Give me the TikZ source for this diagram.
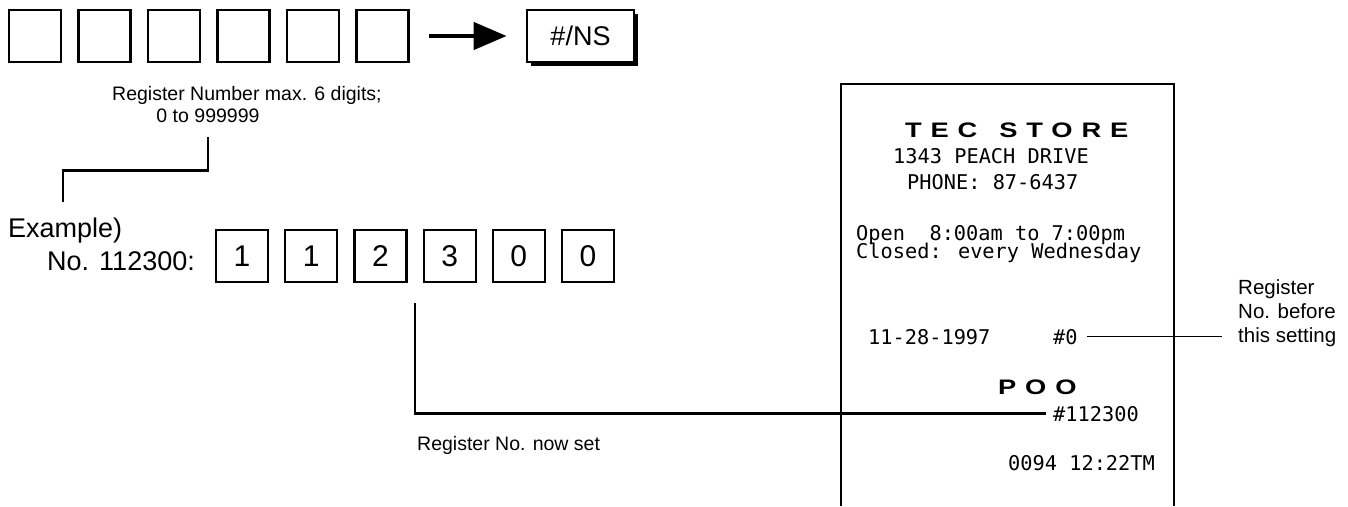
\documentclass[tikz,border=0pt]{standalone}
\usepackage{fontspec}
\setmainfont{Liberation Sans}
\newfontfamily\slipfont{DejaVu Sans Mono}
\newfontfamily\slipheadfont[FakeStretch=1.3,LetterSpace=42]{Liberation Sans}
\usetikzlibrary{arrows.meta,positioning,calc,shadows}

\begin{document}
\begin{tikzpicture}[x=1pt,y=-1pt,>=Latex,
  keybox/.style={draw,line width=2.7pt,minimum width=52pt,minimum height=52pt,inner sep=0pt,font=\fontsize{27}{30}\selectfont},
  digitbox/.style={keybox,line width=2.2pt,font=\fontsize{30}{32}\selectfont},
  smalltext/.style={inner sep=0pt,font=\fontsize{19.5}{22.5}\selectfont},
  bigtext/.style={inner sep=0pt,font=\fontsize{27}{30}\selectfont},
  slip/.style={inner sep=0pt,anchor=base west,font=\fontsize{20.3}{24}\slipfont},
  sliphead/.style={inner sep=0pt,anchor=base west,font=\fontsize{21}{24}\slipheadfont\bfseries},
  leader/.style={line width=2.6pt},
  thinleader/.style={line width=1.3pt}]
  \useasboundingbox (0,0) rectangle (1348,506);

  \foreach \i in {1,...,6}
    \node[keybox] (key\i) at ({35+69.5*(\i-1)},36) {};
  \node[keybox,minimum width=107pt,fill=white,drop shadow={shadow xshift=4pt,shadow yshift=-4pt,fill=black,opacity=1}] (nskey) at (580.5,36) {\#/NS};
  \draw[line width=4.5pt,-{Triangle[length=33pt,width=27pt]},shorten <=19pt,shorten >=19pt] (key6.east) -- (nskey.west);

  \node[smalltext,anchor=base west] (rangea) at (112,100) {Register Number max. 6 digits;};
  \node[smalltext,anchor=base] (rangeb) at (208,122) {0 to 999999};
  \coordinate (exmark) at (63,202);
  \draw[leader] ([yshift=-15pt]rangeb.south) -- ++(0,33) -| (exmark);

  \node[bigtext,anchor=base west] (example) at (8,237) {Example)};
  \node[bigtext,anchor=base west] (exnum) at (47,270) {No. 112300:};
  \foreach \d [count=\i] in {1,1,2,3,0,0}
    \node[digitbox] (digit\i) at ({242+69.2*(\i-1)},256) {\d};
  \node[smalltext,anchor=base west] (nowset) at (417,450) {Register No. now set};

  \draw[line width=2pt] (841,506) -- (841,84) -- (1174,84) -- (1174,506);
  \node[sliphead] (store) at (905,137) {TEC\hspace{22pt}STORE};
  \node[slip] (addr) at (893,163) {1343 PEACH DRIVE};
  \node[slip] (phone) at (907,189) {PHONE: 87-6437};
  \node[slip] (hours) at (856,240) {Open\ \ 8:00am to 7:00pm};
  \node[slip] (closed) at (856,258) {Closed: every Wednesday};
  \node[slip] (date) at (868,344) {11-28-1997};
  \node[slip] (regold) at (1053,344) {\#0};
  \node[sliphead] (clerk) at (998,394) {POO};
  \node[slip] (regnew) at (1053,421) {\#112300};
  \node[slip] (stamp) at (1008,470) {0094 12:22TM};
  \node[smalltext,font=\fontsize{20.5}{24}\selectfont,align=left,anchor=west] (oldnote) at (1238,313) {Register\\No. before\\this setting};

  \draw[leader] ([yshift=-20pt]$(digit3.south east)!.5!(digit4.south west)$) |- ([xshift=-7pt]regnew.west);
  \draw[thinleader,shorten <=9pt,shorten >=16pt] (regold.east) -- (regold.east -| oldnote.west);
\end{tikzpicture}
\end{document}
